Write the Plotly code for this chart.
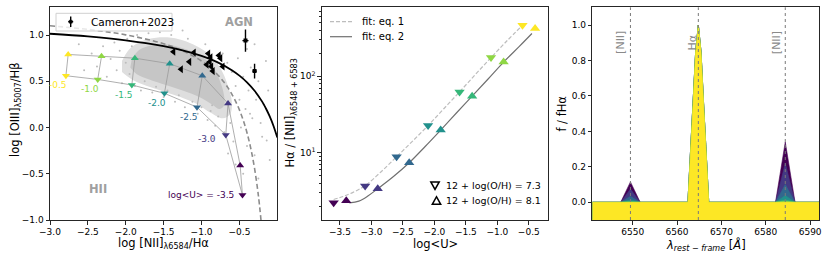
import plotly.graph_objects as go

# ---------------- data ----------------
logU = [-3.5, -3.0, -2.5, -2.0, -1.5, -1.0, -0.5]
logU_labels = ["log&lt;U&gt; = -3.5", "-3.0", "-2.5", "-2.0", "-1.5", "-1.0", "-0.5"]

# BPT model grid (12+log(O/H) = 7.3 -> down triangles, 8.1 -> up triangles)
n2ha_z73 = [-0.46, -0.68, -1.06, -1.49, -1.92, -2.37, -2.79]
o3hb_z73 = [-0.73, -0.08, 0.22, 0.37, 0.46, 0.52, 0.56]
n2ha_z81 = [-0.49, -0.65, -0.99, -1.42, -1.88, -2.32, -2.76]
o3hb_z81 = [-0.41, 0.26, 0.56, 0.69, 0.75, 0.77, 0.79]

# Cameron+2023: [NII] upper limits and detections
cam_lim_x = [-1.37, -1.10, -1.16, -1.27, -0.91, -0.88, -0.89, -0.93, -0.87, -0.85, -0.77, -0.75, -0.72]
cam_lim_y = [0.82, 0.81, 0.71, 0.63, 0.80, 0.76, 0.71, 0.68, 0.66, 0.61, 0.78, 0.75, 0.66]
cam_det_x = [-0.42, -0.30]
cam_det_y = [0.94, 0.61]
cam_det_xerr = [0.04, 0.03]
cam_det_yerr = [0.12, 0.08]

# SDSS-like comparison sample: dense core outline, envelope outline, sparse points
core_x = [-1.92, -1.82, -1.65, -1.47, -1.30, -1.15, -1.02, -0.92, -0.84, -0.78, -0.73, -0.70, -0.70,
          -0.76, -0.86, -1.03, -1.25, -1.47, -1.69, -1.86, -1.94]
core_y = [0.74, 0.84, 0.89, 0.90, 0.87, 0.83, 0.78, 0.72, 0.64, 0.55, 0.44, 0.33, 0.24,
          0.20, 0.25, 0.33, 0.40, 0.46, 0.52, 0.58, 0.65]
env_x = [-2.05, -1.95, -1.80, -1.60, -1.40, -1.20, -1.02, -0.88, -0.78, -0.70, -0.64, -0.60, -0.62,
         -0.72, -0.88, -1.05, -1.28, -1.50, -1.72, -1.92, -2.05]
env_y = [0.72, 0.85, 0.93, 0.97, 0.97, 0.93, 0.86, 0.78, 0.68, 0.56, 0.42, 0.28, 0.15,
         0.10, 0.16, 0.25, 0.33, 0.39, 0.45, 0.52, 0.60]
sparse_x = [-2.45, -2.38, -2.30, -2.25, -2.20, -2.15, -2.12, -2.08, -2.05, -2.00, -1.98, -1.95, -1.92,
            -1.88, -1.85, -1.80, -1.75, -1.70, -1.65, -1.60, -1.55, -1.50, -1.45, -1.40, -1.35, -1.30,
            -1.22, -1.18, -1.12, -1.05, -1.00, -0.95, -0.92, -0.88, -0.82, -0.78, -0.72, -0.70, -0.66,
            -0.62, -0.60, -0.58, -0.55, -0.52, -0.50, -0.48, -0.45, -0.42, -0.40, -0.38, -0.35, -0.33,
            -0.30, -0.28, -0.25, -0.22, -0.20, -0.18, -0.15, -0.12, -0.10, -0.40, -0.55, -0.65, -0.30,
            -2.55, -2.62, -1.25, -0.85, -0.45, -0.25, -0.36, -0.14, -0.86]
sparse_y = [0.80, 0.66, 0.88, 0.55, 0.74, 0.92, 0.62, 0.83, 0.48, 0.70, 0.96, 0.58, 0.88,
            0.45, 1.00, 0.40, 0.50, 1.02, 0.38, 0.44, 1.03, 0.33, 0.40, 1.00, 0.28, 0.35,
            0.22, 0.96, 0.28, 0.15, 0.22, 0.90, 0.08, 0.18, 0.02, 0.12, 0.80, -0.05, 0.70,
            0.05, 0.60, -0.15, 0.45, 0.75, 0.30, 0.00, 0.55, 0.20, -0.20, 0.40, 0.65, 0.10,
            -0.30, 0.30, 0.50, 0.05, -0.10, 0.25, 0.72, 0.40, -0.35, 0.85, -0.40, -0.28, 0.90,
            0.62, 0.90, 1.05, -0.12, -0.50, -0.55, 0.15, -0.14, 0.24]

# demarcation curves (Kewley+01 solid, Kauffmann+03 dashed)
ke01_x = [-3.0, -2.5, -2.0, -1.5, -1.25, -1.0, -0.8, -0.6, -0.5, -0.4, -0.3, -0.2, -0.15, -0.1, -0.05, 0.0]
ke01_y = [1.014, 0.985, 0.943, 0.880, 0.835, 0.775, 0.710, 0.620, 0.561, 0.489, 0.398, 0.280, 0.206, 0.120, 0.017, -0.108]
ka03_x = [-3.0, -2.5, -2.0, -1.5, -1.2, -1.0, -0.9, -0.8, -0.7, -0.65, -0.6, -0.55, -0.5, -0.45, -0.4, -0.35, -0.3, -0.25, -0.215]
ka03_y = [1.100, 1.061, 1.002, 0.906, 0.812, 0.719, 0.658, 0.582, 0.487, 0.429, 0.362, 0.283, 0.191, 0.080, -0.056, -0.225, -0.443, -0.733, -1.002]

# Halpha / [NII] vs log<U>
ha_n2_z73 = [2.23, 3.68, 8.9, 22.7, 62, 175, 463]
ha_n2_z81 = [2.37, 3.4, 7.4, 19.8, 54.8, 153, 419]
fit1_u = [-3.6, -3.45, -3.3, -3.1, -2.85, -2.6, -2.35, -2.1, -1.85, -1.6, -1.35, -1.1, -0.85, -0.6]
fit1_v = [2.45, 2.69, 3.02, 3.72, 5.62, 8.87, 14.1, 22.7, 37.6, 62.4, 105, 175, 288, 462]
fit2_u = [-3.35, -3.2, -3.05, -2.9, -2.65, -2.4, -2.15, -1.9, -1.65, -1.4, -1.15, -0.9, -0.65, -0.45]
fit2_v = [2.21, 2.34, 2.75, 3.39, 4.90, 7.41, 12.0, 19.8, 33.1, 54.8, 91.2, 153, 245, 361]

# model spectra (12+log(O/H)=8.1), normalised to Halpha
line_names = ["[NII]", "Hα", "[NII]"]
line_wave = [6549.5, 6564.8, 6584.4]
label_shift = [-2.1, -1.25, -2.0]
peak_n2a = [0.115, 0.075, 0.034, 0.013, 0.0045, 0.0017, 0.0006]
peak_ha = [1.0, 1.0, 1.0, 1.0, 1.0, 1.0, 1.0]
peak_n2b = [0.34, 0.22, 0.10, 0.038, 0.013, 0.005, 0.0017]
prof_off = [-2.35, -1.2, -0.6, 0.0, 0.6, 1.2, 2.35]
prof_rel = [0.0, 0.55, 0.85, 1.0, 0.85, 0.55, 0.0]
n2_off = [-2.2, 0.0, 2.2]
n2_rel = [0.0, 1.0, 0.0]
wave_min, wave_max = 6540.9, 6592.0

# ---------------- style ----------------
viridis7 = ["#440154", "#443983", "#31688e", "#21918c", "#35b779", "#8fd744", "#fde725"]
FONT = "DejaVu Sans"
AX = "#262626"
W, H = 830, 260


def px(x):
    return x / W


def py(y):
    return 1 - y / H


fig = go.Figure()

# ---- panel 1: BPT ----
fig.add_trace(go.Scatter(x=env_x, y=env_y, fill="toself", fillcolor="#dedede", mode="lines",
                         line=dict(width=0, color="#dedede"), line_shape="spline", xaxis="x", yaxis="y"))
fig.add_trace(go.Scatter(x=core_x, y=core_y, fill="toself", fillcolor="#c6c6c6", mode="lines",
                         line=dict(width=0, color="#c6c6c6"), line_shape="spline", xaxis="x", yaxis="y"))
fig.add_trace(go.Scatter(x=sparse_x, y=sparse_y, mode="markers", marker=dict(size=2, color="#bdbdbd"),
                         xaxis="x", yaxis="y"))
fig.add_trace(go.Scatter(x=ka03_x, y=ka03_y, mode="lines", line=dict(color="#8c8c8c", width=1.6, dash="5px,3px"),
                         line_shape="spline", xaxis="x", yaxis="y"))
fig.add_trace(go.Scatter(x=ke01_x, y=ke01_y, mode="lines", line=dict(color="black", width=1.8),
                         line_shape="spline", xaxis="x", yaxis="y"))
# grid lines between models
gx, gy = [], []
for a, b in ((n2ha_z81, o3hb_z81), (n2ha_z73, o3hb_z73)):
    gx += list(a) + [None]
    gy += list(b) + [None]
for i in range(len(logU)):
    gx += [n2ha_z81[i], n2ha_z73[i], None]
    gy += [o3hb_z81[i], o3hb_z73[i], None]
fig.add_trace(go.Scatter(x=gx, y=gy, mode="lines", line=dict(color="#9a9a9a", width=0.8),
                         xaxis="x", yaxis="y"))
fig.add_trace(go.Scatter(x=n2ha_z81, y=o3hb_z81, mode="markers",
                         marker=dict(symbol="triangle-up", size=7, color=viridis7), xaxis="x", yaxis="y"))
fig.add_trace(go.Scatter(x=n2ha_z73, y=o3hb_z73, mode="markers",
                         marker=dict(symbol="triangle-down", size=7, color=viridis7), xaxis="x", yaxis="y"))
fig.add_trace(go.Scatter(x=cam_lim_x, y=cam_lim_y, mode="markers",
                         marker=dict(symbol="triangle-left", size=7, color="black"), xaxis="x", yaxis="y"))
fig.add_trace(go.Scatter(x=cam_det_x, y=cam_det_y, mode="markers",
                         marker=dict(symbol="square", size=4, color="black"),
                         error_x=dict(type="data", array=cam_det_xerr, width=0, thickness=1.4, color="black"),
                         error_y=dict(type="data", array=cam_det_yerr, width=0, thickness=1.4, color="black"),
                         xaxis="x", yaxis="y"))

annotations = []
for i, lab in enumerate(logU_labels):
    if i == 0:
        annotations.append(dict(x=n2ha_z73[i] - 0.08, y=o3hb_z73[i], xref="x", yref="y", text=lab,
                                xanchor="right", yanchor="middle", showarrow=False,
                                font=dict(size=9, color=viridis7[i], family=FONT)))
    elif i == 1:
        annotations.append(dict(x=n2ha_z73[i] - 0.10, y=o3hb_z73[i] - 0.045, xref="x", yref="y", text=lab,
                                xanchor="right", yanchor="middle", showarrow=False,
                                font=dict(size=9, color=viridis7[i], family=FONT)))
    else:
        annotations.append(dict(x=n2ha_z73[i] - 0.10, y=o3hb_z73[i] - 0.105, xref="x", yref="y", text=lab,
                                xanchor="center", yanchor="middle", showarrow=False,
                                font=dict(size=9, color=viridis7[i], family=FONT)))
annotations.append(dict(x=-0.50, y=1.145, xref="x", yref="y", text="<b>AGN</b>", showarrow=False,
                        xanchor="center", yanchor="middle",
                        font=dict(size=11.5, color="#a0a0a0", family=FONT)))
annotations.append(dict(x=-2.37, y=-0.665, xref="x", yref="y", text="<b>HII</b>", showarrow=False,
                        xanchor="center", yanchor="middle",
                        font=dict(size=11.5, color="#a0a0a0", family=FONT)))

# ---- panel 2 ----
fig.add_trace(go.Scatter(x=fit1_u, y=fit1_v, mode="lines", line=dict(color="#bdbdbd", width=1.2, dash="4px,2px"),
                         line_shape="spline", xaxis="x2", yaxis="y2"))
fig.add_trace(go.Scatter(x=fit2_u, y=fit2_v, mode="lines", line=dict(color="#707070", width=1.2),
                         line_shape="spline", xaxis="x2", yaxis="y2"))
fig.add_trace(go.Scatter(x=[u - 0.1 for u in logU], y=ha_n2_z73, mode="markers",
                         marker=dict(symbol="triangle-down", size=9, color=viridis7), xaxis="x2", yaxis="y2"))
fig.add_trace(go.Scatter(x=[u + 0.1 for u in logU], y=ha_n2_z81, mode="markers",
                         marker=dict(symbol="triangle-up", size=9, color=viridis7), xaxis="x2", yaxis="y2"))

# ---- panel 3 ----
for i in range(len(logU)):
    xs, ys = [wave_min], [0.0]
    for k, c in enumerate(line_wave):
        if k == 1:
            offs, rel, pk = prof_off, prof_rel, peak_ha[i]
        else:
            offs, rel, pk = n2_off, n2_rel, (peak_n2a[i] if k == 0 else peak_n2b[i])
        xs += [c + o for o in offs]
        ys += [pk * r for r in rel]
    xs += [wave_max, wave_max, wave_min]
    ys += [0.0, -0.1, -0.1]
    fig.add_trace(go.Scatter(x=xs, y=ys, fill="toself", fillcolor=viridis7[i], mode="lines",
                             line=dict(color=viridis7[i], width=0.6), xaxis="x3", yaxis="y3"))

shapes = []
for c in line_wave:
    shapes.append(dict(type="line", xref="x3", yref="y3 domain", x0=c, x1=c, y0=0, y1=1,
                       line=dict(color="#7a7a7a", width=1, dash="dot")))
for c, name, dx in zip(line_wave, line_names, label_shift):
    annotations.append(dict(x=c + dx, y=0.9, xref="x3", yref="y3", text=name, textangle=-90,
                            showarrow=False, xanchor="center", yanchor="middle",
                            font=dict(size=11, color="#8a8a8a", family=FONT)))

# ---- legends (drawn) ----
# panel 1 legend
shapes.append(dict(type="rect", xref="paper", yref="paper", x0=px(56), x1=px(172), y0=py(31), y1=py(13.3),
                   line=dict(color="#d0d0d0", width=1), fillcolor="rgba(255,255,255,0.8)"))
shapes.append(dict(type="line", xref="paper", yref="paper", x0=px(70.7), x1=px(70.7), y0=py(27), y1=py(16.5),
                   line=dict(color="black", width=1.4)))
shapes.append(dict(type="line", xref="paper", yref="paper", x0=px(68.2), x1=px(73.2), y0=py(21.7), y1=py(21.7),
                   line=dict(color="black", width=1.4)))
shapes.append(dict(type="rect", xref="paper", yref="paper", x0=px(69.2), x1=px(72.2), y0=py(23.2), y1=py(20.2),
                   line=dict(color="black", width=0.5), fillcolor="black"))
annotations.append(dict(x=px(89), y=py(21.7), xref="paper", yref="paper", text="Cameron+2023",
                        xanchor="left", yanchor="middle", showarrow=False,
                        font=dict(size=10.5, color="black", family=FONT)))
# panel 2 legend (fits)
shapes.append(dict(type="line", xref="paper", yref="paper", x0=px(330), x1=px(352), y0=py(21.7), y1=py(21.7),
                   line=dict(color="#bdbdbd", width=1.2, dash="4px,2px")))
shapes.append(dict(type="line", xref="paper", yref="paper", x0=px(330), x1=px(352), y0=py(36.7), y1=py(36.7),
                   line=dict(color="#707070", width=1.2)))
annotations.append(dict(x=px(360), y=py(21.7), xref="paper", yref="paper", text="fit: eq. 1",
                        xanchor="left", yanchor="middle", showarrow=False,
                        font=dict(size=10, color="black", family=FONT)))
annotations.append(dict(x=px(360), y=py(36.7), xref="paper", yref="paper", text="fit: eq. 2",
                        xanchor="left", yanchor="middle", showarrow=False,
                        font=dict(size=10, color="black", family=FONT)))
# panel 2 legend (metallicity)
def tri_path(cx, cy, up, s=4.2):
    if up:
        pts = [(cx - s, cy + s * 0.9), (cx + s, cy + s * 0.9), (cx, cy - s * 0.9)]
    else:
        pts = [(cx - s, cy - s * 0.9), (cx + s, cy - s * 0.9), (cx, cy + s * 0.9)]
    return "M " + " L ".join(f"{px(a):.5f},{py(b):.5f}" for a, b in pts) + " Z"


shapes.append(dict(type="path", xref="paper", yref="paper", path=tri_path(435, 185.7, False),
                   line=dict(color="black", width=1.5)))
shapes.append(dict(type="path", xref="paper", yref="paper", path=tri_path(436.5, 200.5, True),
                   line=dict(color="black", width=1.5)))
annotations.append(dict(x=px(444), y=py(185.7), xref="paper", yref="paper", text="12 + log(O/H) = 7.3",
                        xanchor="left", yanchor="middle", showarrow=False,
                        font=dict(size=9.5, color="black", family=FONT)))
annotations.append(dict(x=px(444), y=py(200.5), xref="paper", yref="paper", text="12 + log(O/H) = 8.1",
                        xanchor="left", yanchor="middle", showarrow=False,
                        font=dict(size=9.5, color="black", family=FONT)))

# ---- axis titles ----
TF = dict(size=11.5, color="black", family=FONT)
titles = [
    dict(x=px(163.6), y=py(243.5), text="log [NII]<sub>λ6584</sub>/Hα"),
    dict(x=px(15), y=py(110), text="log [OIII]<sub>λ5007</sub>/Hβ", textangle=-90),
    dict(x=px(435), y=py(243.5), text="log&lt;U&gt;"),
    dict(x=px(291), y=py(113.6), text="Hα / [NII]<sub>λ6548 + 6583</sub>", textangle=-90),
    dict(x=px(705.6), y=py(244.5), text="<i>λ</i><sub><i>rest − frame</i></sub> [<i>Å</i>]"),
    dict(x=px(562), y=py(113.6), text="f / fHα", textangle=-90),
]
for t in titles:
    t.update(xref="paper", yref="paper", showarrow=False, font=TF, xanchor="center", yanchor="middle")
    annotations.append(t)

ydom = [py(220), py(7.3)]
common = dict(showline=True, mirror=True, linecolor=AX, linewidth=1, ticks="outside", ticklen=3.5,
              tickwidth=1, tickcolor=AX, showgrid=False, zeroline=False, automargin=False,
              tickfont=dict(size=9, color="black", family=FONT))

fig.update_layout(
    width=W, height=H, margin=dict(l=0, r=0, t=0, b=0, autoexpand=False), showlegend=False,
    paper_bgcolor="white", plot_bgcolor="white", font=dict(family=FONT),
    xaxis=dict(domain=[px(50), px(277.3)], range=[-3, 0], tickvals=[-3, -2.5, -2, -1.5, -1, -0.5],
               tickformat=".1f", anchor="y", **common),
    yaxis=dict(domain=ydom, range=[-1, 1.3], tickvals=[-1, -0.5, 0, 0.5, 1], tickformat=".1f",
               anchor="x", **common),
    xaxis2=dict(domain=[px(321.7), px(548.3)], range=[-3.79, -0.19], tickvals=[-3.5, -3, -2.5, -2, -1.5, -1, -0.5],
                tickformat=".1f", anchor="y2", **common),
    yaxis2=dict(domain=ydom, type="log", range=[0.122, 2.9], tickvals=[10, 100],
                ticktext=["10<sup>1</sup>", "10<sup>2</sup>"], anchor="x2",
                minor=dict(ticks="outside", ticklen=2, tickcolor=AX,
                           tickvals=[2, 3, 4, 5, 6, 7, 8, 9, 20, 30, 40, 50, 60, 70, 80, 90, 200, 300, 400, 500, 600, 700]),
                **common),
    xaxis3=dict(domain=[px(592.3), px(819)], range=[wave_min, wave_max], tickvals=[6550, 6560, 6570, 6580, 6590],
                anchor="y3", **common),
    yaxis3=dict(domain=ydom, range=[-0.1, 1.1], tickvals=[0, 0.2, 0.4, 0.6, 0.8, 1.0], tickformat=".1f",
                anchor="x3", **common),
    shapes=shapes, annotations=annotations,
)

fig.write_html("out.html", config={"displayModeBar": False},
               post_script="document.body.style.margin='0px';document.body.style.padding='0px';"
                           "document.body.style.overflow='hidden';")
